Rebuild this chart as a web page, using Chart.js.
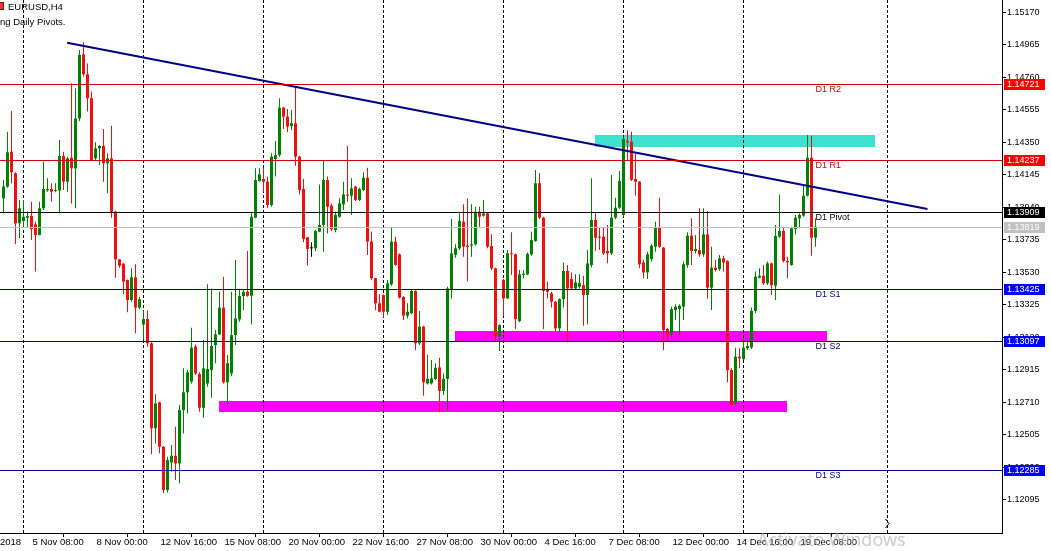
<!DOCTYPE html>
<html>
<head>
<meta charset="utf-8">
<script src="https://cdn.jsdelivr.net/npm/chart.js@4.4.0/dist/chart.umd.min.js"></script>
<style>
  html, body { margin: 0; padding: 0; background: #fff; overflow: hidden; }
  canvas { display: block; }
</style>
</head>
<body>
<canvas id="myChart" width="1051" height="551"></canvas>
<script>
// EURUSD H4, bar index 0 = 5 Nov 00:00, first visible bar is index -5
var firstBar = -5;

var opens = [
 1.13997,1.14071,1.14291,1.14155,1.13839,1.13854,1.13875,1.13886,1.13833,1.13766,
 1.13934,1.14047,1.14056,1.14043,1.14047,1.14264,1.14102,1.14253,1.14186,1.14501,
 1.14905,1.14779,1.14628,1.14249,1.14312,1.14327,1.14218,1.14249,1.13913,1.13612,
 1.13585,1.13482,1.13356,1.13499,1.13308,1.13202,1.13236,1.13083,1.12547,1.12711,
 1.12431,1.12158,1.12332,1.12374,1.12326,1.12662,1.12774,1.12841,1.13062,1.12889,
 1.12677,1.12830,1.12914,1.13072,1.13139,1.13308,1.12837,1.12893,1.13135,1.13234,
 1.13381,1.13408,1.13383,1.13875,1.14106,1.14119,1.14102,1.13955,1.14245,1.14270,
 1.14569,1.14512,1.14453,1.14470,1.14260,1.14056,1.13751,1.13682,1.13682,1.13787,
 1.13829,1.14113,1.13951,1.13797,1.13881,1.13959,1.14018,1.14014,1.14071,1.13987,
 1.14050,1.14127,1.13724,1.13493,1.13335,1.13387,1.13282,1.13455,1.13724,1.13644,
 1.13375,1.13257,1.13272,1.13413,1.13083,1.13188,1.12830,1.12830,1.12858,1.12931,
 1.12782,1.12858,1.13425,1.13640,1.13682,1.13850,1.13699,1.13699,1.13707,1.13913,
 1.13888,1.13902,1.13696,1.13556,1.13125,1.13482,1.13366,1.13650,1.13644,1.13223,
 1.13514,1.13518,1.13644,1.13728,1.14092,1.13875,1.13419,1.13398,1.13345,1.13177,
 1.13362,1.13539,1.13488,1.13429,1.13440,1.13450,1.13387,1.13577,1.13860,1.13755,
 1.13755,1.13665,1.13650,1.13875,1.13938,1.13892,1.14359,1.14354,1.14119,1.14102,
 1.13593,1.13530,1.13614,1.13692,1.13812,1.13686,1.13173,1.13146,1.13293,1.13299,
 1.13314,1.13577,1.13762,1.13665,1.13671,1.13644,1.13770,1.13434,1.13560,1.13551,
 1.13619,1.13602,1.12914,1.12704,1.12999,1.12984,1.13051,1.13057,1.13287,1.13497,
 1.13509,1.13461,1.13587,1.13446,1.13755,1.13791,1.13602,1.13577,1.13804,1.13871,
 1.13888,1.14014,1.14253,1.13749
];
var highs = [
 1.14113,1.14417,1.14548,1.14161,1.13987,1.13987,1.13913,1.13976,1.13850,1.13976,
 1.14228,1.14123,1.14092,1.14092,1.14365,1.14291,1.14260,1.14722,1.14691,1.14932,
 1.14981,1.14848,1.14670,1.14350,1.14333,1.14434,1.14281,1.14455,1.13919,1.13614,
 1.13589,1.13486,1.13556,1.13581,1.13377,1.13291,1.13291,1.13089,1.12761,1.12715,
 1.12435,1.12368,1.12442,1.12557,1.12694,1.12925,1.12914,1.13181,1.13076,1.12900,
 1.13104,1.13455,1.13429,1.13167,1.13408,1.13503,1.13009,1.13408,1.13608,1.13419,
 1.13419,1.13665,1.13913,1.14186,1.14186,1.14190,1.14134,1.14281,1.14359,1.14628,
 1.14575,1.14560,1.14554,1.14701,1.14266,1.14119,1.13755,1.13720,1.13797,1.14085,
 1.14232,1.14134,1.13965,1.13913,1.13997,1.14102,1.14327,1.14123,1.14077,1.14064,
 1.14161,1.14190,1.13787,1.13497,1.13392,1.13392,1.13482,1.13818,1.13755,1.13650,
 1.13379,1.13335,1.13419,1.13417,1.13287,1.13194,1.13013,1.12978,1.12957,1.12992,
 1.12893,1.13440,1.13867,1.13707,1.13902,1.13959,1.13997,1.13959,1.13944,1.13944,
 1.13987,1.13909,1.13770,1.13560,1.13202,1.13488,1.13671,1.13783,1.13650,1.13545,
 1.13545,1.13656,1.13787,1.14176,1.14155,1.13881,1.13472,1.13408,1.13350,1.13366,
 1.13593,1.13577,1.13530,1.13518,1.13518,1.13509,1.13671,1.14123,1.13913,1.13812,
 1.13812,1.13829,1.14144,1.14001,1.14169,1.14380,1.14428,1.14417,1.14281,1.14106,
 1.13608,1.13661,1.13707,1.13850,1.14001,1.13690,1.13181,1.13314,1.13329,1.13329,
 1.13598,1.13783,1.13871,1.13766,1.13934,1.13934,1.13917,1.13692,1.13608,1.13640,
 1.13635,1.13606,1.12925,1.13055,1.13051,1.13118,1.13114,1.13308,1.13535,1.13556,
 1.13577,1.13598,1.13591,1.13829,1.14022,1.13818,1.13629,1.13818,1.13892,1.13902,
 1.14081,1.14396,1.14392,1.13871
];
var lows = [
 1.13902,1.14064,1.14092,1.13707,1.13745,1.13808,1.13812,1.13734,1.13535,1.13762,
 1.13923,1.14039,1.13976,1.14035,1.13902,1.14050,1.14039,1.13965,1.13934,1.14485,
 1.14764,1.14544,1.14232,1.14239,1.14207,1.14102,1.14029,1.13875,1.13497,1.13560,
 1.13392,1.13278,1.13345,1.13146,1.13297,1.13104,1.13062,1.12383,1.12452,1.12389,
 1.12137,1.12143,1.12273,1.12221,1.12200,1.12515,1.12641,1.12830,1.12883,1.12652,
 1.12614,1.12809,1.12740,1.12957,1.13135,1.12830,1.12694,1.12879,1.13072,1.13219,
 1.13293,1.13377,1.13202,1.13871,1.14102,1.14039,1.13934,1.13944,1.14134,1.14260,
 1.14434,1.14413,1.14428,1.14203,1.14022,1.13720,1.13572,1.13629,1.13665,1.13783,
 1.13661,1.13776,1.13791,1.13783,1.13875,1.13923,1.13976,1.13892,1.13980,1.13980,
 1.14043,1.13640,1.13482,1.13293,1.13278,1.13245,1.13261,1.13446,1.13572,1.13366,
 1.13230,1.13240,1.13266,1.13041,1.13072,1.12753,1.12824,1.12824,1.12851,1.12648,
 1.12757,1.12662,1.13366,1.13623,1.13671,1.13629,1.13472,1.13629,1.13699,1.13818,
 1.13881,1.13682,1.13545,1.13093,1.13034,1.13257,1.13362,1.13514,1.13173,1.13215,
 1.13493,1.13514,1.13635,1.13724,1.13867,1.13173,1.13366,1.13308,1.13160,1.13156,
 1.13308,1.13089,1.13419,1.13419,1.13429,1.13194,1.13202,1.13562,1.13665,1.13671,
 1.13640,1.13587,1.13640,1.13867,1.13930,1.13881,1.14239,1.14106,1.14014,1.13556,
 1.13493,1.13488,1.13598,1.13661,1.13686,1.13041,1.13097,1.13125,1.13230,1.13135,
 1.13230,1.13560,1.13577,1.13650,1.13629,1.13629,1.13366,1.13293,1.13535,1.13539,
 1.13535,1.12837,1.12677,1.12694,1.12925,1.12978,1.13041,1.13047,1.13272,1.13493,
 1.13450,1.13450,1.13387,1.13356,1.13749,1.13593,1.13493,1.13572,1.13770,1.13808,
 1.13881,1.14008,1.13635,1.13692
];
var closes = [
 1.14071,1.14287,1.14161,1.13839,1.13934,1.13881,1.13886,1.13802,1.13766,1.13934,
 1.14056,1.14056,1.14039,1.14050,1.14264,1.14102,1.14249,1.14186,1.14501,1.14901,
 1.14779,1.14628,1.14239,1.14312,1.14327,1.14218,1.14249,1.13913,1.13612,1.13572,
 1.13472,1.13356,1.13499,1.13308,1.13360,1.13236,1.13083,1.12547,1.12704,1.12431,
 1.12158,1.12347,1.12374,1.12326,1.12662,1.12774,1.12900,1.13055,1.12893,1.12677,
 1.12925,1.12921,1.13066,1.13139,1.13308,1.12837,1.12957,1.13135,1.13240,1.13381,
 1.13408,1.13383,1.13881,1.14113,1.14148,1.14102,1.13955,1.14260,1.14270,1.14569,
 1.14512,1.14449,1.14470,1.14260,1.14050,1.13741,1.13678,1.13682,1.13791,1.13829,
 1.14113,1.13944,1.13802,1.13892,1.13965,1.14022,1.14014,1.14060,1.13987,1.14056,
 1.14127,1.13724,1.13493,1.13335,1.13282,1.13282,1.13461,1.13724,1.13577,1.13371,
 1.13257,1.13282,1.13413,1.13083,1.13188,1.12837,1.12858,1.12862,1.12929,1.12782,
 1.12858,1.13429,1.13650,1.13682,1.13854,1.13692,1.13690,1.13707,1.13913,1.13881,
 1.13902,1.13692,1.13556,1.13131,1.13198,1.13366,1.13650,1.13644,1.13236,1.13518,
 1.13522,1.13646,1.13734,1.14092,1.13875,1.13413,1.13408,1.13345,1.13177,1.13362,
 1.13539,1.13429,1.13429,1.13467,1.13463,1.13387,1.13587,1.13860,1.13749,1.13749,
 1.13650,1.13650,1.13875,1.13938,1.14106,1.14371,1.14350,1.14113,1.14102,1.13581,
 1.13530,1.13644,1.13699,1.13812,1.13692,1.13167,1.13139,1.13299,1.13314,1.13320,
 1.13581,1.13762,1.13665,1.13678,1.13644,1.13770,1.13434,1.13560,1.13545,1.13619,
 1.13593,1.12914,1.12694,1.12999,1.12988,1.13055,1.13066,1.13287,1.13503,1.13509,
 1.13461,1.13587,1.13450,1.13760,1.13791,1.13602,1.13593,1.13808,1.13875,1.13892,
 1.14014,1.14253,1.13749,1.13819
];

// axis ticks
var xTickBars = [2, 18, 34, 50, 66, 82, 98, 114, 130, 146, 162, 178, 194];
var xTickLabels = ['5 Nov 08:00', '8 Nov 00:00', '12 Nov 16:00', '15 Nov 08:00', '20 Nov 00:00',
  '22 Nov 16:00', '27 Nov 08:00', '30 Nov 00:00', '4 Dec 16:00', '7 Dec 08:00',
  '12 Dec 00:00', '14 Dec 16:00', '19 Dec 08:00'];
var yTickValues = [1.15170, 1.14965, 1.14760, 1.14555, 1.14350, 1.14145, 1.13940, 1.13735,
  1.13530, 1.13325, 1.13120, 1.12915, 1.12710, 1.12505, 1.12300, 1.12095];
var weekBars = [0, 30, 60, 90, 120, 150, 180, 216];

// daily pivots
var pivotNames = ['D1 R2', 'D1 R1', 'D1 Pivot', 'D1 S1', 'D1 S2', 'D1 S3'];
var pivotValues = [1.14721, 1.14237, 1.13909, 1.13425, 1.13097, 1.12285];
var bidPrice = 1.13819;

// drawn objects: trend line and zones (bar index / price)
var trendBars = [10.9, 226.0];
var trendPrices = [1.14978, 1.13930];
var zoneFrom = [142.9, 107.9, 48.9];
var zoneTo = [212.9, 200.9, 190.9];
var zoneLow = [1.14323, 1.13098, 1.12652];
var zoneHigh = [1.14396, 1.13161, 1.12719];

var UP = '#008000', DOWN = '#ee1111';
var candleColors = opens.map(function (o, i) {
  if (closes[i] > o) return UP;
  if (closes[i] < o) return DOWN;
  return '#000000';
});
var bodies = opens.map(function (o, i) { return {x: firstBar + i, y: [o, closes[i]]}; });
var wicks = lows.map(function (l, i) { return {x: firstBar + i, y: [l, highs[i]]}; });
var trend = trendBars.map(function (b, i) { return {x: b, y: trendPrices[i]}; });

Chart.defaults.font.family = '"Liberation Sans", Arial, sans-serif';
Chart.defaults.font.size = 9;
Chart.defaults.color = '#000';

var zoneColors = ['#40e0d0', '#ff00ff', '#ff00ff'];
var pivotLineColors = ['#d00000', '#d00000', '#000000', '#000080', '#000080', '#0000a0'];
var pivotBoxColors = ['#ff0000', '#ff0000', '#000000', '#0000ff', '#0000ff', '#0000ff'];

var decor = {
  id: 'decor',
  beforeDatasetsDraw: function (chart) {
    var ctx = chart.ctx, a = chart.chartArea, x = chart.scales.x, y = chart.scales.y;
    ctx.save();
    ctx.beginPath();
    ctx.rect(a.left, a.top, a.right - a.left, a.bottom - a.top);
    ctx.clip();
    // zones
    for (var i = 0; i < zoneFrom.length; i++) {
      var x0 = x.getPixelForValue(zoneFrom[i]), x1 = x.getPixelForValue(zoneTo[i]);
      var y0 = y.getPixelForValue(zoneHigh[i]), y1 = y.getPixelForValue(zoneLow[i]);
      ctx.fillStyle = zoneColors[i];
      ctx.fillRect(Math.round(x0), Math.round(y0), Math.round(x1 - x0), Math.round(y1 - y0));
    }
    // weekly separators
    ctx.strokeStyle = '#000';
    ctx.lineWidth = 1;
    ctx.setLineDash([3, 2]);
    weekBars.forEach(function (b) {
      var px = Math.floor(x.getPixelForValue(b)) + 0.5;
      ctx.beginPath();
      ctx.moveTo(px, a.top);
      ctx.lineTo(px, a.bottom);
      ctx.stroke();
    });
    ctx.restore();
  },
  afterDatasetsDraw: function (chart) {
    var ctx = chart.ctx, a = chart.chartArea, x = chart.scales.x, y = chart.scales.y;
    ctx.save();
    ctx.lineWidth = 1;
    var by = Math.round(y.getPixelForValue(bidPrice)) + 0.5;
    ctx.strokeStyle = '#c0c0c0';
    ctx.beginPath(); ctx.moveTo(a.left, by); ctx.lineTo(a.right, by); ctx.stroke();
    var lx = x.getPixelForValue(198);
    ctx.font = '9px "Liberation Sans", Arial, sans-serif';
    ctx.textBaseline = 'middle';
    ctx.textAlign = 'left';
    pivotValues.forEach(function (v, i) {
      var py = Math.round(y.getPixelForValue(v)) + 0.5;
      ctx.strokeStyle = pivotLineColors[i];
      ctx.beginPath(); ctx.moveTo(a.left, py); ctx.lineTo(a.right, py); ctx.stroke();
      ctx.fillStyle = pivotLineColors[i];
      ctx.fillText(pivotNames[i], lx, py + 5.5);
    });
    ctx.restore();
  },
  afterDraw: function (chart) {
    var ctx = chart.ctx, a = chart.chartArea, y = chart.scales.y;
    ctx.save();
    ctx.font = '9px "Liberation Sans", Arial, sans-serif';
    ctx.textBaseline = 'middle';
    ctx.textAlign = 'left';
    // price boxes on the right axis
    var boxes = pivotValues.concat([bidPrice]);
    var cols = pivotBoxColors.concat(['#c0c0c0']);
    boxes.forEach(function (v, i) {
      var py = Math.round(y.getPixelForValue(v));
      ctx.fillStyle = cols[i];
      ctx.fillRect(a.right + 2, py - 5, 41, 11);
      ctx.fillStyle = '#fff';
      ctx.fillText(v.toFixed(5), a.right + 5, py + 0.5);
    });
    // header
    ctx.fillStyle = '#e03a3a';
    ctx.fillRect(-3, 2, 7, 8);
    ctx.strokeStyle = '#8a1010';
    ctx.strokeRect(-2.5, 2.5, 6, 7);
    ctx.fillStyle = '#000';
    ctx.font = '9.5px "Liberation Sans", Arial, sans-serif';
    ctx.fillText('EURUSD,H4', 8, 7);
    ctx.fillText('ng Daily Pivots.', 0, 22);
    ctx.fillText('2018', 0, 542);
    // chart shift marker
    ctx.strokeStyle = '#000';
    ctx.lineWidth = 1;
    ctx.beginPath();
    ctx.moveTo(885.5, 519); ctx.lineTo(889, 523.5); ctx.lineTo(885.5, 528);
    ctx.stroke();
    // OS watermark
    ctx.fillStyle = 'rgba(170,170,170,0.6)';
    ctx.font = '18px "Noto Sans", sans-serif';
    ctx.fillText('Activate Windows', 757, 541);
    ctx.restore();
  }
};

var ctx = document.getElementById('myChart').getContext('2d');
var myChart = new Chart(ctx, {
  type: 'bar',
  data: {
    datasets: [
      { type: 'line', label: 'Trend', data: trend, borderColor: '#000080', borderWidth: 2,
        pointRadius: 0, order: 0 },
      { label: 'Body', data: bodies, backgroundColor: candleColors, barThickness: 3,
        minBarLength: 1, grouped: false, inflateAmount: 0, borderWidth: 0, order: 1 },
      { label: 'Wick', data: wicks, backgroundColor: candleColors, barThickness: 1,
        grouped: false, inflateAmount: 0, borderWidth: 0, order: 2 }
    ]
  },
  options: {
    responsive: false,
    animation: false,
    events: [],
    layout: { padding: 0, autoPadding: false },
    plugins: { legend: { display: false }, tooltip: { enabled: false } },
    scales: {
      x: {
        type: 'linear', min: -5.875, max: 244.625, offset: false,
        grid: { display: true, drawOnChartArea: false, tickLength: 4, color: '#000' },
        border: { display: true, color: '#000' },
        ticks: {
          autoSkip: false, maxRotation: 0, minRotation: 0, align: 'start', labelOffset: 1,
          padding: 0, font: { size: 9.5 },
          callback: function (v, i) { return xTickLabels[i]; }
        },
        afterBuildTicks: function (s) { s.ticks = xTickBars.map(function (v) { return {value: v}; }); },
        afterFit: function (s) { s.height = 18; s.paddingLeft = 0; s.paddingRight = 0; }
      },
      y: {
        type: 'linear', position: 'right', min: 1.118869, max: 1.152476, beginAtZero: false,
        grid: { display: true, drawOnChartArea: false, tickLength: 4, color: '#000' },
        border: { display: true, color: '#000' },
        ticks: {
          autoSkip: false, padding: 1,
          callback: function (v) { return v.toFixed(5); }
        },
        afterBuildTicks: function (s) { s.ticks = yTickValues.map(function (v) { return {value: v}; }); },
        afterFit: function (s) { s.width = 49; s.paddingTop = 0; s.paddingBottom = 0; }
      }
    }
  },
  plugins: [decor]
});
</script>
</body>
</html>
